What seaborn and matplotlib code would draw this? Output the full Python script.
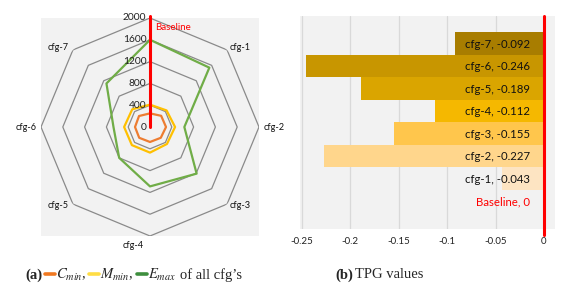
import numpy as np
import pandas as pd
import matplotlib
matplotlib.use("Agg")
import matplotlib.pyplot as plt
from matplotlib.lines import Line2D
import seaborn as sns

# ---- radar data (a) ----
radar_axes = ["Baseline", "cfg-1", "cfg-2", "cfg-3", "cfg-4", "cfg-5", "cfg-6", "cfg-7"]
c_min = [250, 290, 294, 280, 275, 280, 275, 285]
m_min = [410, 430, 460, 440, 470, 470, 475, 460]
e_max = [1600, 1540, 630, 1210, 1090, 800, 670, 1130]
radar_rings = [400, 800, 1200, 1600, 2000]
radar_ticks = [0, 400, 800, 1200, 1600, 2000]

# ---- TPG data (b) ----
tpg_cfgs = ["cfg-7", "cfg-6", "cfg-5", "cfg-4", "cfg-3", "cfg-2", "cfg-1", "Baseline"]
tpg_vals = [-0.092, -0.246, -0.189, -0.112, -0.155, -0.227, -0.043, 0.0]
tpg_colors = ["#a87d00", "#c89600", "#daa500", "#f5b800", "#ffc64c", "#ffd68c", "#fde4c2", "#f2f2f2"]
tpg_ticks = [-0.25, -0.2, -0.15, -0.1, -0.05, 0]
tpg_ticklabels = ["-0.25", "-0.2", "-0.15", "-0.1", "-0.05", "0"]

sns.set_theme(style="white")
plt.rcParams["font.family"] = ["Lato", "DejaVu Sans"]
plt.rcParams["mathtext.fontset"] = "stix"

W, H = 582, 289
fig = plt.figure(figsize=(W / 100, H / 100), dpi=100)


def box(x0, y0, x1, y1):
    # pixel box (top-left origin) -> figure fraction rect
    return [x0 / W, 1 - y1 / H, (x1 - x0) / W, (y1 - y0) / H]


# ------------------ RADAR ------------------
rect = box(41, 18, 259, 236)
ax_bg = fig.add_axes(rect)
ax_bg.set_facecolor("#f2f2f2")
ax_bg.set_xticks([])
ax_bg.set_yticks([])
for s in ax_bg.spines.values():
    s.set_visible(False)

ax = fig.add_axes(rect, projection="polar")
ax.patch.set_alpha(0)
ax.set_theta_zero_location("N")
ax.set_theta_direction(-1)
ax.grid(False)
ax.set_xticks([])
ax.set_yticks([])
ax.spines["polar"].set_visible(False)

theta = np.arange(len(radar_axes)) * 2 * np.pi / len(radar_axes)
theta_c = np.append(theta, theta[0])

for r in radar_rings:
    ax.plot(theta_c, [r] * len(theta_c), color="#8a8a8a", lw=0.9, zorder=1)

for vals, col in [(c_min, "#ed7d31"), (m_min, "#ffc000"), (e_max, "#70ad47")]:
    sns.lineplot(x=theta_c, y=np.append(vals, vals[0]), sort=False, estimator=None,
                 color=col, lw=1.6, ax=ax, zorder=3)
ax.set_ylim(0, 2000)
ax.set_xlabel("")
ax.set_ylabel("")

# baseline spoke
ax.plot([0, 0], [0, 2030], color="#ff0000", lw=2.2, zorder=4, clip_on=False)

for t in radar_ticks:
    ax.annotate(str(t), xy=(0, t), xytext=(-2.5, 0), textcoords="offset points",
                ha="right", va="center", fontsize=7.4, color="#222222")

offsets = {
    "cfg-1": (2, 2, "left", "center"),
    "cfg-2": (3, 0, "left", "center"),
    "cfg-3": (2, -1, "left", "center"),
    "cfg-4": (-12, -7, "center", "center"),
    "cfg-5": (-3, -1, "right", "center"),
    "cfg-6": (-3, 0, "right", "center"),
    "cfg-7": (-3, 2, "right", "center"),
}
for th, name in zip(theta, radar_axes):
    if name == "Baseline":
        ax.annotate(name, xy=(th, 2000), xytext=(4, -7), textcoords="offset points",
                    ha="left", va="center", fontsize=7, color="#ff0000")
        continue
    dx, dy, ha, va = offsets[name]
    ax.annotate(name, xy=(th, 2000), xytext=(dx, dy), textcoords="offset points",
                ha=ha, va=va, fontsize=6.6, color="#111111")

# ------------------ TPG BARS ------------------
ax2 = fig.add_axes(box(300, 16, 555, 229))
tpg_df = pd.DataFrame({"cfg": tpg_cfgs, "tpg": tpg_vals})
sns.barplot(data=tpg_df, x="tpg", y="cfg", hue="cfg", palette=tpg_colors,
            order=tpg_cfgs, width=1.0, saturation=1, linewidth=0,
            legend=False, ax=ax2, zorder=2)
ax2.set_facecolor("#f2f2f2")
ax2.set_xlim(-0.2518, 0.0114)
ax2.set_ylim(len(tpg_cfgs) - 0.5 + 0.75, -0.5 - 0.72)
ax2.set_xticks(tpg_ticks)
ax2.set_xticklabels(tpg_ticklabels, fontsize=7, color="#222222")
ax2.tick_params(axis="x", length=0, pad=6)
ax2.set_yticks([])
ax2.set_xlabel("")
ax2.set_ylabel("")
for s in ax2.spines.values():
    s.set_visible(False)
ax2.xaxis.grid(True, color="#d9d9d9", lw=0.9, zorder=0)
ax2.set_axisbelow(True)
ax2.axvline(0, ymin=-0.03, ymax=1, color="#ff0000", lw=2.2, clip_on=False, zorder=5)

for i, (name, v) in enumerate(zip(tpg_cfgs, tpg_vals)):
    label = f"{name}, {v:g}" if v != 0 else f"{name}, 0"
    ax2.text(-0.0145, i + 0.04, label, ha="right", va="center", fontsize=8.2,
             color="#ff0000" if name == "Baseline" else "#111111", zorder=6)

# ------------------ CAPTIONS ------------------
serif = "Liberation Serif"
cy = 1 - 275 / H
fig.text(25 / W, cy, "(a)", fontsize=10.5, fontweight="bold", family=serif, va="center")
pieces = [
    ("#f07820", 45, "$C_{min}$,", 56),
    ("#ffdd44", 89, "$M_{min}$,", 100),
    ("#3e8e3e", 137, "$E_{max}$", 148),
]
for col, lx, txt, tx in pieces:
    fig.add_artist(Line2D([lx / W, (lx + 10) / W], [cy + 0.003, cy + 0.003],
                          color=col, lw=2.6, transform=fig.transFigure))
    fig.text(tx / W, cy, txt, fontsize=10.5, family=serif, va="center")
fig.text(180 / W, cy, "of all cfg’s", fontsize=10.5, family=serif, va="center")

fig.text(335 / W, cy, "(b)", fontsize=10.5, fontweight="bold", family=serif, va="center")
fig.text(355 / W, cy, "TPG values", fontsize=10.5, family=serif, va="center")

fig.savefig("out.png", dpi=100)
